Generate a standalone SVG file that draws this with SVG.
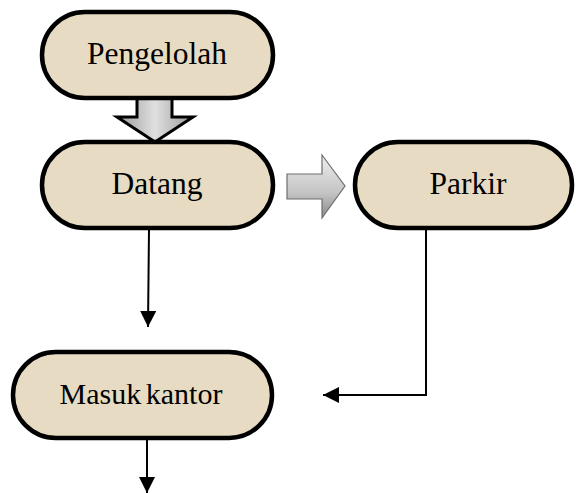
<svg xmlns="http://www.w3.org/2000/svg" width="576" height="493" viewBox="0 0 576 493">
<defs>
<style>
.node rect{fill:#e7dcc3;stroke:#000;stroke-width:4.5}
.node text{font-family:"Liberation Serif","Times New Roman",serif;font-size:31.5px;fill:#000;text-anchor:middle}
.conn{stroke:#000;stroke-width:2;fill:none}
</style>
<linearGradient id="gv" x1="0" y1="0" x2="1" y2="0">
<stop offset="0" stop-color="#9a9a9a"/><stop offset="0.5" stop-color="#e0e0e0"/><stop offset="1" stop-color="#9a9a9a"/>
</linearGradient>
<linearGradient id="gh" x1="0" y1="0" x2="0" y2="1">
<stop offset="0" stop-color="#eeeeee"/><stop offset="0.6" stop-color="#c4c4c4"/><stop offset="1" stop-color="#8a8a8a"/>
</linearGradient>
<marker id="ahb" viewBox="0 0 16 16" refX="16" refY="8" markerWidth="16" markerHeight="16" markerUnits="userSpaceOnUse" orient="auto">
<path d="M0,0 L16,8 L0,16 z" fill="#000"/>
</marker>
</defs>
<rect width="576" height="493" fill="#fff"/>
<g id="connectors">
<path id="block-down" d="M137,98 L172,98 L172,117 L193,117 L155,142 L117,117 L137,117 Z" fill="url(#gv)" stroke="#000" stroke-width="3" stroke-linejoin="miter"/>
<path id="block-right" d="M287,174 L322,174 L322,155 L345,186 L322,218 L322,199 L287,199 Z" fill="url(#gh)" stroke="#6e6e6e" stroke-width="1.2"/>
<line class="conn" x1="149" y1="229" x2="148" y2="327" marker-end="url(#ahb)"/>
<polyline class="conn" points="426,229 426,395 323,395" marker-end="url(#ahb)"/>
<line class="conn" x1="147" y1="439" x2="147" y2="493" marker-end="url(#ahb)"/>
</g>
<g id="pengelolah" class="node">
<rect x="42" y="12" width="231" height="86" rx="43"/>
<text x="157" y="64">Pengelolah</text>
</g>
<g id="datang" class="node">
<rect x="42" y="142" width="231" height="86" rx="43"/>
<text x="157" y="194">Datang</text>
</g>
<g id="parkir" class="node">
<rect x="355" y="142" width="217" height="86" rx="43"/>
<text x="468" y="194">Parkir</text>
</g>
<g id="masuk-kantor" class="node">
<rect x="13" y="352" width="259" height="86" rx="43"/>
<text x="141" y="404" style="font-size:30px" word-spacing="-3">Masuk kantor</text>
</g>
</svg>
